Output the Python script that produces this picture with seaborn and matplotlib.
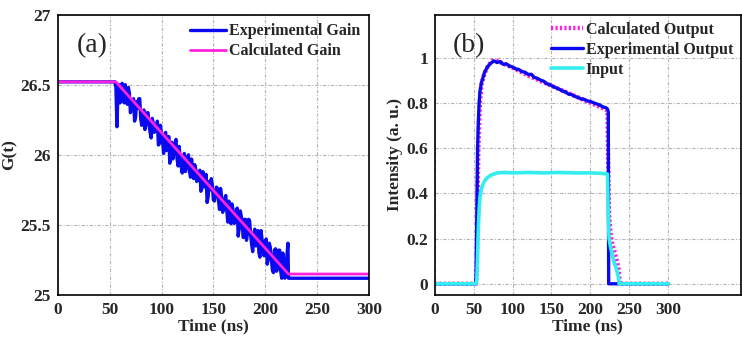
import numpy as np
import pandas as pd
import matplotlib
matplotlib.use("Agg")
import matplotlib.pyplot as plt
import seaborn as sns

# ---------------- data: panel (a) ----------------
# experimental gain: flat parts plus samples on even times
t_gain_exp = [0, 55, 56, 57] + list(range(58, 223, 2)) + [222.5, 300]
g_exp = [26.52, 26.52, 26.48, 26.20,
         26.45, 26.37, 26.51, 26.37, 26.42, 26.48, 26.30, 26.36, 26.24, 26.38,
         26.40, 26.25, 26.30, 26.18, 26.30, 26.21, 26.12, 26.23, 26.17, 26.24,
         26.08, 26.14, 26.01, 26.16, 26.05, 25.94, 26.09, 26.02, 26.11, 25.92,
         25.98, 25.87, 26.01, 25.91, 26.00, 25.84, 25.89, 25.93, 25.81, 25.88,
         25.74, 25.88, 25.77, 25.66, 25.81, 25.83, 25.68, 25.72, 25.76, 25.61,
         25.70, 25.62, 25.71, 25.52, 25.62, 25.65, 25.51, 25.59, 25.42, 25.60,
         25.48, 25.54, 25.39, 25.54, 25.43, 25.31, 25.47, 25.41, 25.30, 25.46,
         25.31, 25.38, 25.22, 25.37, 25.25, 25.16, 25.33, 25.19, 25.32, 25.12,
         25.24, 25.20, 25.37,
         25.12, 25.12]
# experimental gain samples on odd times
t_gain_exp_odd = list(range(59, 222, 2))
g_exp_odd = [26.50, 26.39, 26.43, 26.50, 26.36, 26.44, 26.35, 26.40, 26.27, 26.33,
             26.40, 26.21, 26.32, 26.22, 26.30, 26.16, 26.26, 26.16, 26.19, 26.07,
             26.21, 26.10, 26.15, 26.03, 26.13, 26.04, 25.97, 26.08, 25.97, 26.06,
             25.92, 25.96, 25.88, 25.98, 25.88, 25.97, 25.83, 25.90, 25.82, 25.89,
             25.76, 25.81, 25.86, 25.70, 25.75, 25.79, 25.67, 25.77, 25.67, 25.76,
             25.59, 25.68, 25.60, 25.67, 25.51, 25.61, 25.52, 25.62, 25.48, 25.56,
             25.41, 25.54, 25.44, 25.53, 25.36, 25.44, 25.35, 25.46, 25.27, 25.40,
             25.28, 25.40, 25.26, 25.34, 25.18, 25.32, 25.17, 25.32, 25.17, 25.30,
             25.12, 25.28]
t_gain_calc = [0, 56, 222.5, 300]
g_calc = [26.52, 26.52, 25.15, 25.15]

# ---------------- data: panel (b) ----------------
t_out_calc = [0, 53, 54, 55, 56, 58, 60, 64, 68, 72, 76, 80, 90, 100, 120, 140,
              160, 180, 200, 210, 220, 222, 223, 224, 226, 228, 231, 234, 236,
              237, 237.5, 300]
out_calc = [0, 0, 0.1, 0.4, 0.6, 0.8, 0.88, 0.93, 0.96, 0.98, 0.99, 0.985,
            0.97, 0.955, 0.92, 0.89, 0.86, 0.83, 0.8, 0.785, 0.77, 0.76, 0.5,
            0.3, 0.22, 0.18, 0.14, 0.1, 0.07, 0.04, 0, 0]

t_out_exp = [0, 52, 53, 54, 55, 56, 57, 58] + list(range(60, 221, 4)) + [222, 223, 223.5, 300]
out_exp = [0, 0, 0.02, 0.3, 0.6, 0.72, 0.8, 0.85,
           0.89, 0.935, 0.96, 0.975, 0.985, 0.978, 0.982, 0.97, 0.972, 0.962,
           0.958, 0.95, 0.947, 0.938, 0.935, 0.925, 0.926, 0.912, 0.908, 0.90,
           0.895, 0.884, 0.88, 0.872, 0.866, 0.86, 0.852, 0.848, 0.838, 0.836,
           0.828, 0.824, 0.817, 0.815, 0.808, 0.806, 0.80, 0.795, 0.79, 0.782,
           0.778,
           0.772, 0.76, 0.0, 0.0]

t_in = [0, 53, 54, 55, 56, 57, 58, 60, 62, 65, 68, 72, 76, 80, 90, 100, 120,
        140, 160, 180, 200, 215, 222, 223, 224, 226, 228, 230, 233, 236, 237, 300]
inp = [0, 0, 0.02, 0.12, 0.25, 0.33, 0.38, 0.42, 0.44, 0.46, 0.47, 0.48,
       0.485, 0.49, 0.492, 0.49, 0.492, 0.49, 0.492, 0.49, 0.49, 0.488, 0.485,
       0.3, 0.2, 0.16, 0.13, 0.1, 0.07, 0.03, 0, 0]

xticks = [0, 50, 100, 150, 200, 250, 300]
yticks_a = [25, 25.5, 26, 26.5, 27]
ylabels_a = ["25", "25.5", "26", "26.5", "27"]
yticks_b = [0, 0.2, 0.4, 0.6, 0.8, 1.0]
ylabels_b = ["0", "0.2", "0.4", "0.6", "0.8", "1"]

gain_df = pd.DataFrame({"t": t_gain_exp + t_gain_exp_odd,
                        "g": g_exp + g_exp_odd}).sort_values("t", kind="stable")

# ---------------- style ----------------
sns.set_style("white")
plt.rcParams['font.family'] = ['Liberation Serif', 'DejaVu Serif']
plt.rcParams['font.weight'] = 'bold'
FS = 12.5
LFS = 11.5

fig = plt.figure(figsize=(7.42, 3.38), dpi=100)
ax1 = fig.add_axes([0.078, 0.127, 0.419, 0.830])
ax2 = fig.add_axes([0.586, 0.127, 0.412, 0.830])

BLUE = "#0a0af0"
MAG = "#ff22dd"
CYAN = "#33eeee"

sns.lineplot(data=gain_df, x="t", y="g", ax=ax1, color=BLUE, lw=2.4,
             label="Experimental Gain", estimator=None, sort=False)
sns.lineplot(x=t_gain_calc, y=g_calc, ax=ax1, color=MAG, lw=2.0,
             label="Calculated Gain", estimator=None, sort=False)

sns.lineplot(x=t_out_calc, y=out_calc, ax=ax2, color=MAG, lw=3.2, ls=(0, (0.5, 0.5)),
             label="Calculated Output", estimator=None, sort=False)
sns.lineplot(x=t_out_exp, y=out_exp, ax=ax2, color=BLUE, lw=2.4,
             label="Experimental Output", estimator=None, sort=False)
sns.lineplot(x=t_in, y=inp, ax=ax2, color=CYAN, lw=2.6,
             label="Input", estimator=None, sort=False)

ax1.set_xlim(0, 300)
ax1.set_ylim(25, 27)
ax1.set_yticks(yticks_a)
ax1.set_yticklabels(ylabels_a)
ax2.set_xlim(0, 393)
ax2.set_ylim(-0.05, 1.19)
ax2.set_yticks(yticks_b)
ax2.set_yticklabels(ylabels_b)

for ax in (ax1, ax2):
    ax.set_xticks(xticks)
    ax.set_xticklabels([str(v) for v in xticks])
    ax.grid(True, color="#b4b4b4", ls=(0, (3, 1.5, 1, 1.5)), lw=0.8)
    ax.tick_params(direction="in", labelsize=FS, length=3, width=0.8, pad=5,
                   top=False, right=False)
    for lab in ax.get_xticklabels() + ax.get_yticklabels():
        lab.set_fontweight("bold")
    for s in ax.spines.values():
        s.set_color("black")
        s.set_linewidth(1.2)
    ax.set_xlabel("Time (ns)", fontsize=FS, fontweight="bold", labelpad=0)

ax1.set_ylabel("G(t)", fontsize=FS, fontweight="bold", labelpad=2)
ax2.set_ylabel("Intensity (a. u.)", fontsize=FS, fontweight="bold", labelpad=2)

ax1.text(0.06, 0.935, "(a)", transform=ax1.transAxes, fontsize=20,
         fontweight="normal", va="top", ha="left")
ax2.text(0.06, 0.935, "(b)", transform=ax2.transAxes, fontsize=20,
         fontweight="normal", va="top", ha="left")

ax1.legend(loc="upper right", frameon=False, handlelength=2.2,
           handletextpad=0.2, borderaxespad=0.15, labelspacing=0.25,
           prop={'weight': 'bold', 'size': LFS})
ax2.legend(loc="upper right", frameon=False, handlelength=2.0,
           handletextpad=0.2, borderaxespad=0.05, labelspacing=0.25,
           prop={'weight': 'bold', 'size': LFS})

fig.savefig("out.png", dpi=100)
